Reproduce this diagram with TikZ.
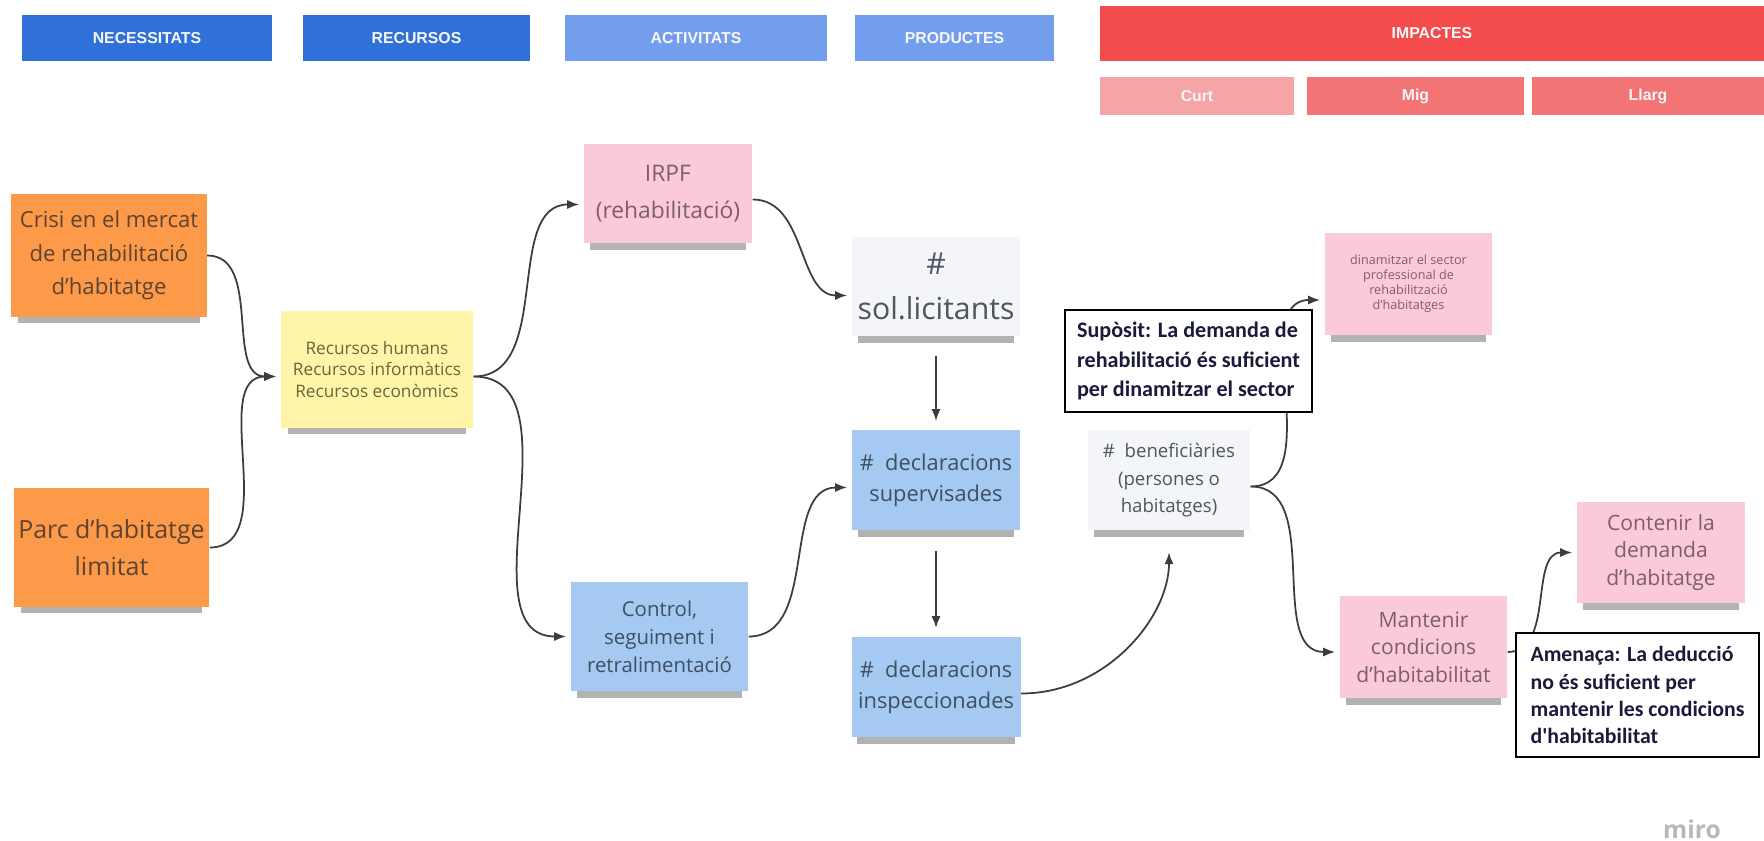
\documentclass[tikz,border=0pt]{standalone}
\usepackage{fontspec}
\setmainfont{Open Sans}
\newfontfamily\headfont{Liberation Sans}
\newfontfamily\calloutfont{Carlito}
\usetikzlibrary{arrows.meta,shadows}
\definecolor{necblue}{HTML}{2F71D8}
\definecolor{actblue}{HTML}{739EEE}
\definecolor{impred}{HTML}{F44C4C}
\definecolor{curtred}{HTML}{F5A5A5}
\definecolor{migred}{HTML}{F27474}
\definecolor{orangenote}{HTML}{FC9A49}
\definecolor{yellownote}{HTML}{FFF5A8}
\definecolor{pinknote}{HTML}{FACAD9}
\definecolor{bluenote}{HTML}{A5C9F1}
\definecolor{graynote}{HTML}{F3F5F8}
\definecolor{orangeink}{HTML}{5E4331}
\definecolor{yellowink}{HTML}{6A6638}
\definecolor{pinkink}{HTML}{7E5E6A}
\definecolor{blueink}{HTML}{3C4F63}
\definecolor{grayink}{HTML}{50555E}
\definecolor{calloutink}{HTML}{1A1A3A}
\definecolor{linegray}{HTML}{3C3C3C}
\tikzset{
	header/.style={fill=#1,text=white!94!gray,inner sep=0pt,
		font=\headfont\bfseries\fontsize{4.5}{5}\selectfont},
	note/.style={fill=#1,inner sep=0pt,align=center,
		drop shadow={shadow scale=0.93,shadow xshift=0pt,shadow yshift=-3.2pt,opacity=0.3,fill=black}},
	callout/.style={draw=black,line width=0.7pt,fill=white,inner sep=0pt,
		align=left,text=calloutink,font=\calloutfont\bfseries\fontsize{6.3}{8.4}\selectfont},
	conn/.style={every edge/.style={draw=linegray,line width=0.5pt,
		-{Latex[length=3.4pt,width=2.6pt]},shorten >=1.2pt}},
}
\begin{document}
\begin{tikzpicture}[node distance=1.94cm]
	\tikzstyle{needbox}=[note=orangenote,text=orangeink,minimum width=1.95cm]
	\tikzstyle{pinkbox}=[note=pinknote,text=pinkink]
	\tikzstyle{bluebox}=[note=bluenote,text=blueink]
	\tikzstyle{graybox}=[note=graynote,text=grayink]
	\useasboundingbox (0,0) rectangle (17.64,-8.41);
	%HEADER BARS
	\node[header=necblue,minimum width=2.5cm,minimum height=0.46cm](nec) at (1.47,-0.38){NECESSITATS};
	\node[header=necblue,minimum width=2.27cm,minimum height=0.46cm](rec) at (4.165,-0.38){RECURSOS};
	\node[header=actblue,minimum width=2.62cm,minimum height=0.46cm](act) at (6.96,-0.38){ACTIVITATS};
	\node[header=actblue,minimum width=1.99cm,minimum height=0.46cm](prod) at (9.545,-0.38){PRODUCTES};
	\node[header=impred,minimum width=6.64cm,minimum height=0.55cm](imp) at (14.32,-0.335){IMPACTES};
	\node[header=curtred,minimum width=1.94cm,minimum height=0.38cm](curt) at (11.97,-0.96){Curt};
	\node[header=migred,minimum width=2.17cm,minimum height=0.38cm](mig) at (14.155,-0.96){Mig};
	\node[header=migred,minimum width=2.32cm,minimum height=0.38cm](llarg) at (16.48,-0.96){Llarg};
	%NODES for Necessitats and Recursos
	\node[needbox,minimum height=1.23cm,font=\fontsize{6.3}{9.6}\selectfont](crisi) at (1.09,-2.555){Crisi en el mercat\\de rehabilitació\\d'habitatge};
	\node[needbox,minimum height=1.19cm,font=\fontsize{7.1}{10.4}\selectfont](parc) at (1.115,-5.475){Parc d'habitatge\\limitat};
	\node[note=yellownote,text=yellowink,minimum width=1.92cm,minimum height=1.17cm,font=\fontsize{4.9}{6.2}\selectfont](recursos) at (3.77,-3.695){Recursos humans\\Recursos informàtics\\Recursos econòmics};
	%NODES for Activitats
	\node[pinkbox,minimum width=1.68cm,minimum height=0.99cm,font=\fontsize{6.5}{10.4}\selectfont](irpf) at (6.68,-1.935){IRPF\\(rehabilitació)};
	\node[bluebox,minimum width=1.77cm,minimum height=1.09cm,font=\fontsize{5.8}{8}\selectfont](control) at (6.595,-6.365){Control,\\seguiment i\\retralimentació};
	%NODES for Productes
	\node[graybox,minimum width=1.68cm,minimum height=0.99cm,font=\fontsize{8.6}{13}\selectfont](sol) at (9.36,-2.865){\#\\sol.licitants};
	\node[bluebox,minimum width=1.68cm,minimum height=1cm,font=\fontsize{6.2}{9}\selectfont](decsup)[below of = sol]{\#~~declaracions\\supervisades};
	\node[bluebox,minimum width=1.69cm,minimum height=1cm,font=\fontsize{6.2}{9}\selectfont](decins)[below of = decsup, yshift=-1.3mm]{\#~~declaracions\\inspeccionades};
	\node[graybox,minimum width=1.62cm,minimum height=1cm,font=\fontsize{5.3}{7.8}\selectfont](benef)[right of = decsup, xshift=3.9mm]{\#~~beneficiàries\\(persones o\\habitatges)};
	%NODES for Impactes
	\node[pinkbox,minimum width=1.67cm,minimum height=1.02cm,font=\fontsize{3.6}{4.3}\selectfont](dinam) at (14.085,-2.84){\raisebox{1.2pt}{\begin{tabular}{@{}c@{}}dinamitzar el sector\\professional de\\rehabilització\\d'habitatges\end{tabular}}};
	\node[pinkbox,minimum width=1.67cm,minimum height=1.02cm,font=\fontsize{6}{7.8}\selectfont](mantenir) at (14.235,-6.47){Mantenir\\condicions\\d'habitabilitat};
	\node[pinkbox,minimum width=1.68cm,minimum height=1.01cm,font=\fontsize{6}{7.8}\selectfont](contenir) at (16.61,-5.525){Contenir la\\demanda\\d'habitatge};
	%PATHS
	\path[conn] (crisi) edge[out=0,in=180] ([yshift=-0.7mm]recursos.west)
		(parc) edge[out=0,in=180] ([yshift=-0.7mm]recursos.west)
		([yshift=-0.7mm]recursos.east) edge[out=0,in=180] ([yshift=-1.1mm]irpf.west)
		([yshift=-0.7mm]recursos.east) edge[out=0,in=180] (control.west)
		([yshift=-0.6mm]irpf.east) edge[out=0,in=180] ([yshift=-0.9mm]sol.west)
		(sol) edge[shorten <=5.5pt,shorten >=2.5pt] (decsup)
		(control) edge[out=0,in=180] ([yshift=-0.7mm]decsup.west)
		(decsup) edge[shorten <=5.5pt,shorten >=2.5pt] (decins)
		([yshift=-0.6mm]decins.east) edge[out=0,in=-90,shorten >=6pt] (benef.south)
		([yshift=-0.6mm]benef.east) edge[out=0,in=180] ([yshift=-1.6mm]dinam.west)
		([yshift=-0.6mm]benef.east) edge[out=0,in=180] ([yshift=-0.5mm]mantenir.west)
		([yshift=-0.5mm]mantenir.east) edge[out=0,in=180] (contenir.west);
	%CALLOUT BOXES
	\node[callout,minimum width=2.47cm,minimum height=1.02cm](suposit) at (11.885,-3.61){Supòsit: La demanda de\\rehabilitació és suficient\\per dinamitzar el sector};
	\node[callout,minimum width=2.43cm,minimum height=1.24cm,font=\calloutfont\bfseries\fontsize{6.2}{7.7}\selectfont](amenaca) at (16.375,-6.95){Amenaça: La deducció\\no és suficient per\\mantenir les condicions\\d'habitabilitat};
	\node[text=black!28,font=\bfseries\fontsize{7}{8}\selectfont](miro) at (16.92,-8.29){miro};
\end{tikzpicture}
\end{document}
